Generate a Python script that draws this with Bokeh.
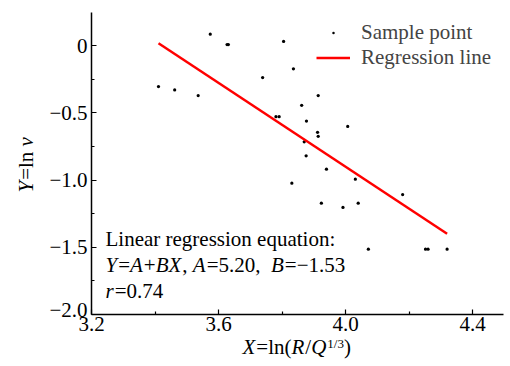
import math
from bokeh.plotting import figure
from bokeh.models import FixedTicker, Label, Legend, LegendItem, Range1d, LinearAxis
from bokeh.embed import file_html
from bokeh.resources import INLINE

# ---- data ----
sample_x = [3.411, 3.462, 3.536, 3.574, 3.627, 3.631, 3.739, 3.781, 3.791, 3.805,
            3.836, 3.862, 3.877, 3.870, 3.876, 3.914, 4.007, 3.912, 3.914, 3.940,
            3.831, 4.031, 4.180, 3.924, 3.992, 4.040, 4.072, 4.252, 4.260, 4.320]
sample_y = [-0.305, -0.330, -0.372, 0.084, 0.007, 0.007, -0.238, -0.529, -0.529, 0.030,
            -0.173, -0.445, -0.562, -0.716, -0.820, -0.372, -0.602, -0.645, -0.675, -0.920,
            -1.024, -0.994, -1.108, -1.172, -1.204, -1.172, -1.514, -1.514, -1.514, -1.514]
reg_x = [3.411, 4.320]
reg_y = [0.017, -1.400]

x_ticks = [3.2, 3.6, 4.0, 4.4]
x_tick_labels = ["3.2", "3.6", "4.0", "4.4"]
x_minor = [3.4, 3.8, 4.2]
y_ticks = [0.0, -0.5, -1.0, -1.5]
y_tick_labels = ["0", "\u22120.5", "\u22121.0", "\u22121.5"]
y_bottom_tick = [-2.0]
y_bottom_label = ["\u22122.0"]
y_minor = [-0.25, -0.75, -1.25, -1.75]
x_axis_extent = (3.2, 4.497)
y_axis_extent = (-2.0, 0.248)

FONT = "Liberation Serif"
FS = 21
W, H = 510, 366
AX_LEFT, AX_ZERO_Y = 91, 45          # x pixel of X=3.2, y pixel of Y=0
PX_PER_X, PX_PER_Y = 317.5, 134.5

x0 = x_axis_extent[0] - AX_LEFT / PX_PER_X
x1 = x_axis_extent[0] + (W - AX_LEFT) / PX_PER_X
y1 = AX_ZERO_Y / PX_PER_Y
y0 = -(H - AX_ZERO_Y) / PX_PER_Y

p = figure(frame_width=W, frame_height=H,
           min_border_left=0, min_border_right=0, min_border_top=0, min_border_bottom=0,
           x_range=Range1d(x0, x1), y_range=Range1d(y0, y1),
           output_backend="svg", toolbar_location=None)
p.title.visible = False
p.outline_line_color = None
p.xgrid.visible = False
p.ygrid.visible = False
p.background_fill_color = "white"
p.border_fill_color = "white"

def style_axis(ax, standoff):
    ax.major_tick_in = 5
    ax.major_tick_out = 0
    ax.minor_tick_in = 3
    ax.minor_tick_out = 0
    ax.axis_line_width = 1.5
    ax.axis_line_color = "black"
    ax.major_tick_line_color = "black"
    ax.minor_tick_line_color = "black"
    ax.major_tick_line_width = 1.2
    ax.minor_tick_line_width = 1.2
    ax.major_label_text_font = FONT
    ax.major_label_text_font_size = f"{FS}px"
    ax.major_label_text_color = "black"
    ax.major_label_standoff = standoff

xa, ya = p.xaxis[0], p.yaxis[0]
xa.fixed_location = y_axis_extent[0]
xa.bounds = x_axis_extent
xa.ticker = FixedTicker(ticks=x_ticks, minor_ticks=x_minor)
xa.major_label_overrides = dict(zip(x_ticks, x_tick_labels))
style_axis(xa, 2)

ya.fixed_location = x_axis_extent[0]
ya.bounds = y_axis_extent
ya.ticker = FixedTicker(ticks=y_ticks + y_bottom_tick, minor_ticks=y_minor)
ya.major_label_overrides = dict(zip(y_ticks + y_bottom_tick, y_tick_labels + [""]))
style_axis(ya, 4)

# the lowest y label sits a little above its tick (as in the original), drawn by a
# label-only axis on a range shifted by 5 px
shift = 5 / PX_PER_Y
p.extra_y_ranges = {"lift": Range1d(y0 - shift, y1 - shift)}
ya2 = LinearAxis(y_range_name="lift", fixed_location=x_axis_extent[0],
                 ticker=FixedTicker(ticks=y_bottom_tick, minor_ticks=[]),
                 major_label_overrides=dict(zip(y_bottom_tick, y_bottom_label)))
style_axis(ya2, 4)
ya2.axis_line_color = None
ya2.major_tick_line_color = None
ya2.minor_tick_line_color = None
p.add_layout(ya2, "left")

pts = p.scatter(sample_x, sample_y, marker="dot", size=13, color="black")
reg = p.line(reg_x, reg_y, line_color="#ff0000", line_width=2.5)

legend = Legend(items=[LegendItem(label="Sample point", renderers=[pts]),
                       LegendItem(label="Regression line", renderers=[reg])],
                location=(316, H - 70), orientation="vertical",
                label_text_font=FONT, label_text_font_size=f"{FS}px",
                glyph_width=34, glyph_height=25, label_height=25,
                label_standoff=11, spacing=0, padding=0, margin=0,
                border_line_color=None, background_fill_alpha=0)
p.add_layout(legend)

# ---- rich text helper (Times metrics) ----
REG = {' ': 250, '=': 564, '+': 564, '\u2212': 564, ',': 250, '.': 250, '(': 333, ')': 333,
       '/': 278, 'l': 278, 'n': 500, ':': 278}
for d in "0123456789":
    REG[d] = 500
ITA = {'X': 611, 'Y': 556, 'A': 611, 'B': 611, 'R': 611, 'Q': 722, 'r': 389, 'v': 444}

def tw(s, italic, size):
    tab = ITA if italic else REG
    return sum(tab.get(c, 500) for c in s) * size / 1000.0

def rich(pieces, px, py, vertical=False):
    """pieces: (text, italic, size, rise); (px, py) canvas pixel of start / text middle."""
    pos = 0.0
    for text, italic, size, rise in pieces:
        if not vertical:
            sx, sy, ang = px + pos, H - py + rise, 0.0
        else:
            sx, sy, ang = px - rise, H - py + pos, math.pi / 2
        p.add_layout(Label(x=sx, y=sy, x_units="screen", y_units="screen", text=text,
                           angle=ang, text_font=FONT, text_font_size=f"{size}px",
                           text_font_style="italic" if italic else "normal",
                           text_color="black", text_align="left",
                           text_baseline="middle"))
        pos += tw(text, italic, size) + (1.0 if italic else 0.0)

# axis titles
rich([("X", True, FS, 0), ("=ln(", False, FS, 0), ("R", True, FS, 0), ("/", False, FS, 0),
      ("Q", True, FS, 0), ("1/3", False, 13, 3), (")", False, FS, 0)], 242, 346)
rich([("Y", True, FS, 0), ("=ln ", False, FS, 0), ("v", True, FS, 0)], 25, 192, vertical=True)

# equation annotation
rich([("Linear regression equation:", False, FS, 0)], 105, 238)
rich([("Y", True, FS, 0), ("=", False, FS, 0), ("A", True, FS, 0), ("+", False, FS, 0),
      ("BX", True, FS, 0), (", ", False, FS, 0), ("A", True, FS, 0), ("=5.20,  ", False, FS, 0),
      ("B", True, FS, 0), ("=\u22121.53", False, FS, 0)], 105, 264)
rich([("r", True, FS, 0), ("=0.74", False, FS, 0)], 105, 290)

open("out.html", "w").write(file_html(p, INLINE))
